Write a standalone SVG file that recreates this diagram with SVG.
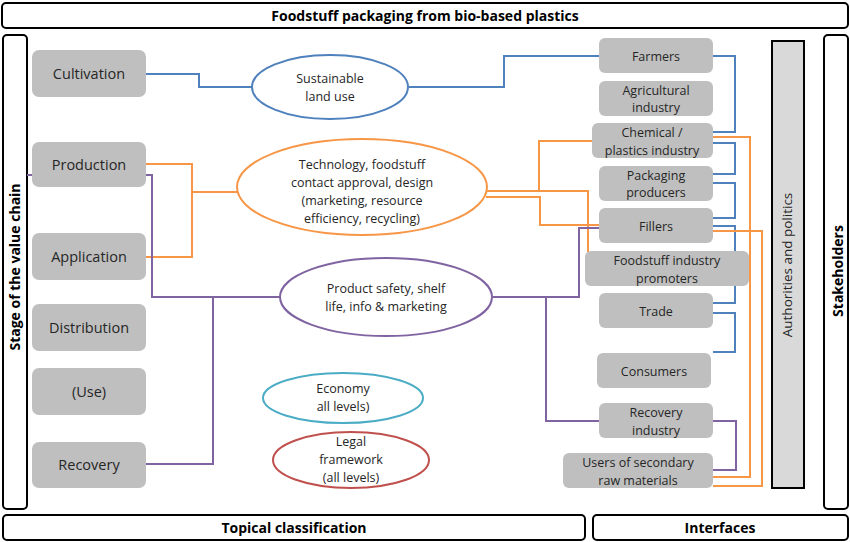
<svg xmlns="http://www.w3.org/2000/svg" width="850" height="542" viewBox="0 0 850 542">
<style>
text{font-family:"Open Sans","Liberation Sans",sans-serif;fill:#262626;text-anchor:middle;}
.frame{fill:#fff;stroke:#000;stroke-width:2;}
.hdr{font-size:14px;font-weight:bold;fill:#000;}
.box{fill:#bfbfbf;stroke:none;}
.bt{font-size:14.5px;}
.rt{font-size:12.5px;}
.et{font-size:12.5px;}
.c{fill:none;stroke-width:2;}
.blue{stroke:#4f81bd;}
.orange{stroke:#f79646;}
.purple{stroke:#8064a2;}
.cyan{stroke:#4bacc6;}
.red{stroke:#c0504d;}
.ell{fill:#fff;stroke-width:2;}
</style>
<rect width="850" height="542" fill="#fff"/>

<g id="title">
<rect class="frame" x="2" y="3" width="846" height="25" rx="4"/>
<text class="hdr" x="425" y="21">Foodstuff packaging from bio-based plastics</text>
</g>
<g id="stage">
<rect class="frame" x="3" y="35" width="24" height="474" rx="4"/>
<text class="hdr" transform="translate(20,267) rotate(-90)">Stage of the value chain</text>
</g>
<g id="stakeholders">
<rect class="frame" x="824" y="35" width="24" height="474" rx="4"/>
<text class="hdr" transform="translate(843,271) rotate(-90)">Stakeholders</text>
</g>
<g id="authorities">
<rect x="772" y="41" width="32" height="447" fill="#d9d9d9" stroke="#000" stroke-width="2"/>
<text transform="translate(792,265) rotate(-90)" style="font-size:13.5px">Authorities and politics</text>
</g>
<g id="topical">
<rect class="frame" x="3" y="515" width="582" height="25" rx="4"/>
<text class="hdr" x="294" y="533">Topical classification</text>
</g>
<g id="interfaces">
<rect class="frame" x="593" y="515" width="255" height="25" rx="4"/>
<text class="hdr" x="720" y="533">Interfaces</text>
</g>

<g id="connectors">
<!-- blue -->
<polyline class="c blue" points="146,74 199,74 199,87 252,87"/>
<polyline class="c blue" points="409,87 504,87 504,56 599,56"/>
<polyline class="c blue" points="713,56 735,56 735,132 713,132"/>
<polyline class="c blue" points="713,143 735,143 735,174 713,174"/>
<polyline class="c blue" points="713,183 735,183 735,218 713,218"/>
<polyline class="c blue" points="713,226 735,226 735,303 713,303"/>
<polyline class="c blue" points="713,313 735,313 735,352 713,352"/>
<!-- orange -->
<polyline class="c orange" points="146,164 192,164 192,257 146,257"/>
<line class="c orange" x1="192" y1="192" x2="237" y2="192"/>
<polyline class="c orange" points="486,191 588,191 588,252"/>
<polyline class="c orange" points="539,191 539,141 592,141"/>
<polyline class="c orange" points="486,197 540,197 540,225 599,225"/>
<polyline class="c orange" points="713,137 750,137 750,477 713,477"/>
<polyline class="c orange" points="713,231 762,231 762,486 713,486"/>
<!-- purple -->
<line class="c purple" x1="27" y1="175" x2="32" y2="175"/>
<polyline class="c purple" points="146,175 152,175 152,297 280,297"/>
<polyline class="c purple" points="213,297 213,464 146,464"/>
<polyline class="c purple" points="493,297 579,297 579,228 599,228"/>
<polyline class="c purple" points="546,297 546,421 599,421"/>
<polyline class="c purple" points="713,421 736,421 736,470 713,470"/>
</g>

<g id="cultivation"><rect class="box" x="32" y="50" width="114" height="47" rx="7"/><text class="bt" x="89" y="79">Cultivation</text></g>
<g id="production"><rect class="box" x="32" y="142" width="114" height="45" rx="7"/><text class="bt" x="89" y="170">Production</text></g>
<g id="application"><rect class="box" x="32" y="233" width="114" height="47" rx="7"/><text class="bt" x="89" y="262">Application</text></g>
<g id="distribution"><rect class="box" x="32" y="304" width="114" height="47" rx="7"/><text class="bt" x="89" y="333">Distribution</text></g>
<g id="use"><rect class="box" x="32" y="368" width="114" height="47" rx="7"/><text class="bt" x="89" y="397">(Use)</text></g>
<g id="recovery"><rect class="box" x="32" y="442" width="114" height="46" rx="7"/><text class="bt" x="89" y="470">Recovery</text></g>

<g id="sustainable"><ellipse class="ell blue" cx="330" cy="87" rx="78" ry="32"/><text class="et" x="330" y="83">Sustainable</text><text class="et" x="330" y="101">land use</text></g>
<g id="technology"><ellipse class="ell orange" cx="362" cy="187" rx="125" ry="48"/>
<text class="et" x="362" y="169">Technology, foodstuff</text>
<text class="et" x="362" y="187">contact approval, design</text>
<text class="et" x="362" y="205">(marketing, resource</text>
<text class="et" x="362" y="223">efficiency, recycling)</text></g>
<g id="safety"><ellipse class="ell purple" cx="386" cy="297" rx="106" ry="39"/>
<text class="et" x="386" y="293">Product safety, shelf</text>
<text class="et" x="386" y="311">life, info &amp; marketing</text></g>
<g id="economy"><ellipse class="ell cyan" cx="343" cy="398" rx="80" ry="25"/>
<text class="et" x="343" y="393">Economy</text>
<text class="et" x="343" y="411">all levels)</text></g>
<g id="legal"><ellipse class="ell red" cx="351" cy="460" rx="78" ry="28"/>
<text class="et" x="351" y="446">Legal</text>
<text class="et" x="351" y="464">framework</text>
<text class="et" x="351" y="482">(all levels)</text></g>

<g id="farmers"><rect class="box" x="599" y="38" width="114" height="35" rx="6"/><text class="rt" x="656" y="61">Farmers</text></g>
<g id="agricultural"><rect class="box" x="599" y="81" width="114" height="35" rx="6"/><text class="rt" x="656" y="95">Agricultural</text><text class="rt" x="656" y="112">industry</text></g>
<g id="chemical"><rect class="box" x="592" y="123" width="121" height="35" rx="6"/><text class="rt" x="652" y="137">Chemical /</text><text class="rt" x="652" y="155">plastics industry</text></g>
<g id="packaging"><rect class="box" x="599" y="166" width="114" height="35" rx="6"/><text class="rt" x="656" y="180">Packaging</text><text class="rt" x="656" y="197">producers</text></g>
<g id="fillers"><rect class="box" x="599" y="208" width="114" height="35" rx="6"/><text class="rt" x="656" y="231">Fillers</text></g>
<g id="foodstuff"><rect class="box" x="585" y="251" width="164" height="35" rx="6"/><text class="rt" x="667" y="265">Foodstuff industry</text><text class="rt" x="667" y="283">promoters</text></g>
<g id="trade"><rect class="box" x="599" y="293" width="114" height="35" rx="6"/><text class="rt" x="656" y="316">Trade</text></g>
<g id="consumers"><rect class="box" x="597" y="353" width="114" height="35" rx="6"/><text class="rt" x="654" y="376">Consumers</text></g>
<g id="recoveryind"><rect class="box" x="599" y="403" width="114" height="35" rx="6"/><text class="rt" x="656" y="417">Recovery</text><text class="rt" x="656" y="435">industry</text></g>
<g id="users"><rect class="box" x="563" y="453" width="150" height="35" rx="6"/><text class="rt" x="638" y="467">Users of secondary</text><text class="rt" x="638" y="485">raw materials</text></g>
</svg>
